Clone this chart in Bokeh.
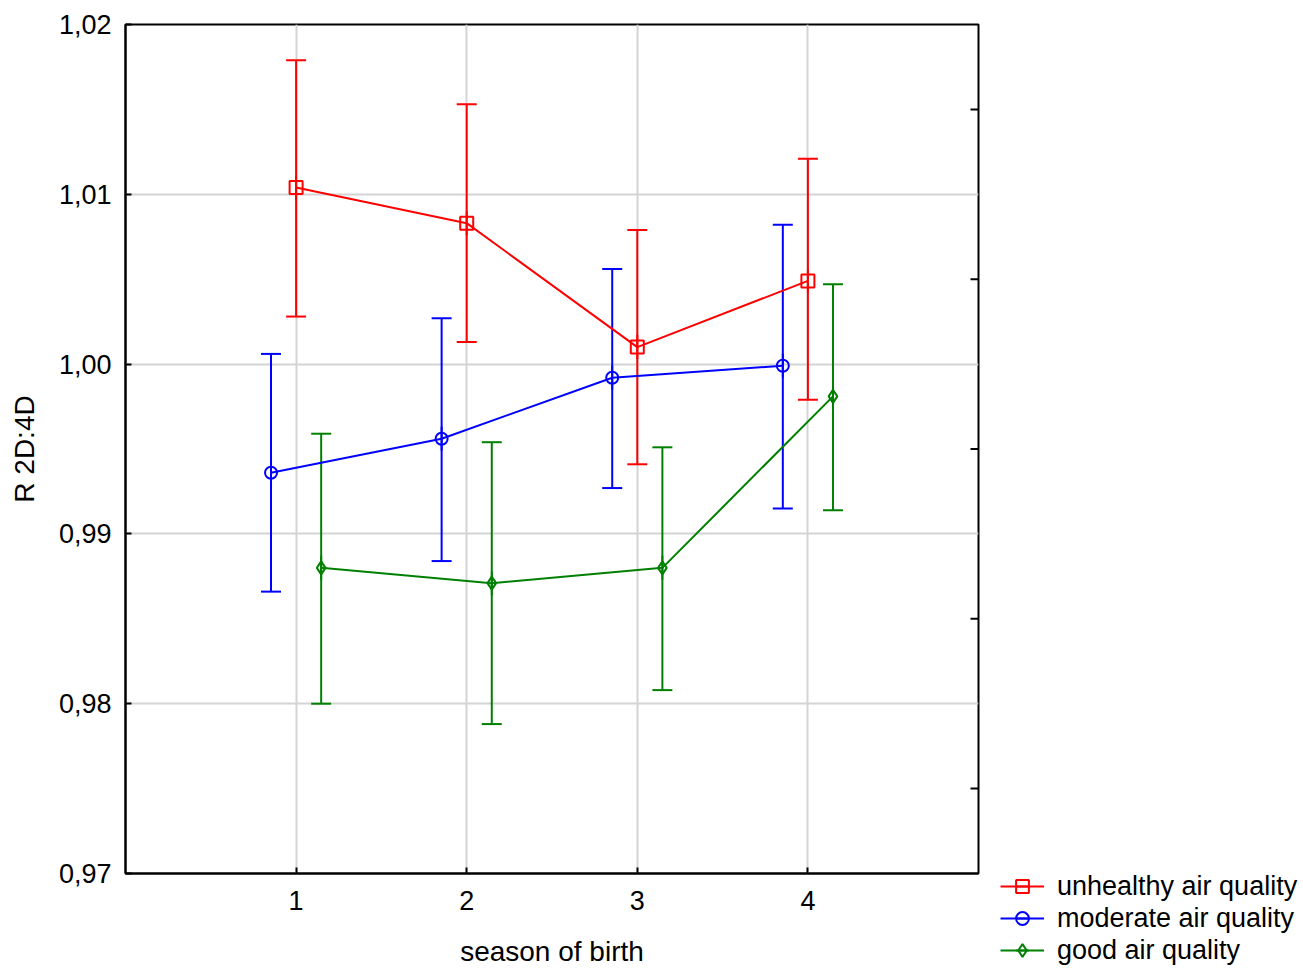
from bokeh.plotting import figure
from bokeh.models import (ColumnDataSource, FixedTicker, CustomJSTickFormatter,
                          Whisker, TeeHead, Legend, LegendItem, Range1d)
from bokeh.embed import file_html
from bokeh.resources import INLINE

seasons = [1, 2, 3, 4]
series_names = ["unhealthy air quality", "moderate air quality", "good air quality"]
offsets = [0.0, -0.147, 0.147]
colors = ["#FF0000", "#0000FF", "#008000"]
markers = ["square", "circle", "diamond"]
marker_sizes = [13, 12, 13]

unhealthy_mean = [1.0104, 1.0083, 1.0010, 1.0049]
unhealthy_low = [1.0028, 1.0013, 0.9941, 0.9979]
unhealthy_high = [1.0179, 1.0153, 1.0079, 1.0121]

moderate_mean = [0.9936, 0.9956, 0.9992, 0.9999]
moderate_low = [0.9866, 0.9884, 0.9927, 0.9915]
moderate_high = [1.0006, 1.0027, 1.0056, 1.0082]

good_mean = [0.9880, 0.9871, 0.9880, 0.9981]
good_low = [0.9800, 0.9788, 0.9808, 0.9914]
good_high = [0.9959, 0.9954, 0.9951, 1.0047]

y_ticks = [0.97, 0.98, 0.99, 1.00, 1.01, 1.02]
y_minor_ticks = [0.975, 0.985, 0.995, 1.005, 1.015]

means = [unhealthy_mean, moderate_mean, good_mean]
lows = [unhealthy_low, moderate_low, good_low]
highs = [unhealthy_high, moderate_high, good_high]

FONT = "Liberation Sans"
X_MIN, X_MAX = 0, 5

p = figure(frame_width=853, frame_height=849, output_backend="svg", toolbar_location=None,
           x_range=Range1d(X_MIN, X_MAX), y_range=Range1d(0.97, 1.02),
           min_border_left=125, min_border_right=0, min_border_top=24, min_border_bottom=97)

p.outline_line_color = "black"
p.outline_line_width = 2

p.xaxis.ticker = FixedTicker(ticks=seasons)
p.yaxis.ticker = FixedTicker(ticks=y_ticks)
p.yaxis.formatter = CustomJSTickFormatter(code="return tick.toFixed(2).replace('.', ',');")
for ax in (p.xaxis[0], p.yaxis[0]):
    ax.axis_line_color = "black"
    ax.axis_line_width = 2
    ax.major_tick_in = 6
    ax.major_tick_out = 0
    ax.major_tick_line_width = 2
    ax.minor_tick_line_color = None
    ax.major_label_text_font = FONT
    ax.major_label_text_font_size = "27px"
    ax.major_label_text_color = "black"
    ax.axis_label_text_font = FONT
    ax.axis_label_text_font_size = "28px"
    ax.axis_label_text_font_style = "normal"
    ax.axis_label_text_color = "black"
p.xaxis.major_label_standoff = 17
p.xaxis.axis_label = "season of birth"
p.xaxis.axis_label_standoff = 23
p.yaxis.major_label_standoff = 14
p.yaxis.axis_label = "R 2D:4D"
p.yaxis.axis_label_standoff = 16

p.xgrid.ticker = FixedTicker(ticks=seasons)
p.ygrid.ticker = FixedTicker(ticks=y_ticks)
p.grid.grid_line_color = "#D4D4D4"
p.grid.grid_line_width = 2

# inward minor ticks on the right frame edge (half clipped by the frame)
p.scatter(x=[X_MAX] * len(y_minor_ticks), y=y_minor_ticks, marker="dash", size=16,
          line_color="black", line_width=2)

legend_items = []
for name, off, col, mk, ms, m, lo, hi in zip(series_names, offsets, colors, markers,
                                              marker_sizes, means, lows, highs):
    xs = [s + off for s in seasons]
    src = ColumnDataSource(dict(x=xs, y=m, lower=lo, upper=hi))
    w = Whisker(source=src, base="x", upper="upper", lower="lower", dimension="height",
                line_color=col, line_width=2,
                upper_head=TeeHead(size=20, line_color=col, line_width=2),
                lower_head=TeeHead(size=20, line_color=col, line_width=2))
    p.add_layout(w)
    ln = p.line("x", "y", source=src, line_color=col, line_width=2)
    # short vertical stroke (lies on the error bar) so the legend glyph shows a bar
    vt = p.scatter("x", "y", source=src, marker="dash", angle=1.5708, size=24,
                   line_color=col, line_width=2)
    sc = p.scatter("x", "y", source=src, marker=mk, size=ms, line_color=col,
                   line_width=2, fill_color=None)
    legend_items.append(LegendItem(label=name, renderers=[ln, vt, sc]))

legend = Legend(items=legend_items, location=(22, -93), orientation="vertical",
                glyph_width=44, glyph_height=32, label_height=32, spacing=0,
                padding=0, margin=0, label_standoff=13,
                label_text_font=FONT, label_text_font_size="27px",
                label_text_color="black", border_line_color=None,
                background_fill_alpha=0)
p.add_layout(legend, "right")

open("out.html", "w").write(file_html(p, INLINE))
